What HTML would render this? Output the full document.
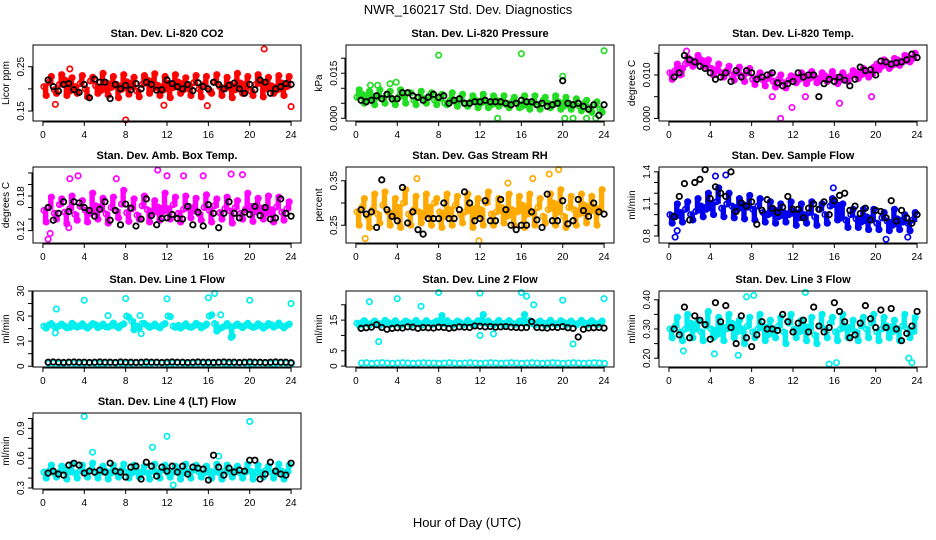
<!DOCTYPE html>
<html><head><meta charset="utf-8"><style>
body{margin:0;background:#fff;width:936px;height:540px;overflow:hidden}
svg{display:block;font-family:"Liberation Sans",sans-serif}
</style></head><body>
<svg id="chart" width="936" height="540" viewBox="0 0 936 540" xmlns="http://www.w3.org/2000/svg">
<rect width="936" height="540" fill="#fff"/>
<text x="468" y="14" text-anchor="middle" font-size="13">NWR_160217  Std. Dev. Diagnostics</text>
<text x="467" y="527" text-anchor="middle" font-size="13">Hour of Day (UTC)</text>
</svg>
<script>
const xTicks=[0,4,8,12,16,20,24];
// CO2
const co2A=[0.205,0.215,0.198,0.21,0.22,0.195,0.205,0.212,0.2,0.218,0.207,0.196,0.214,0.203,0.21,0.199,0.216,0.205,0.195,0.21,0.22,0.2,0.208,0.197,0.212,0.203,0.215,0.198,0.206,0.214,0.2,0.21,0.196,0.215,0.205,0.2,0.21,0.198,0.213,0.204,0.195,0.21,0.216,0.2,0.207,0.197,0.213,0.205];
const co2B=[0.185,0.228,0.19,0.232,0.185,0.225,0.19,0.23,0.182,0.226,0.19,0.235,0.186,0.228,0.18,0.232,0.188,0.226,0.182,0.23,0.19,0.234,0.185,0.228,0.18,0.232,0.19,0.225,0.185,0.23,0.182,0.228,0.19,0.232,0.185,0.226,0.18,0.235,0.19,0.228,0.185,0.232,0.182,0.226,0.19,0.23,0.185,0.228];
const co2K=[0.22,0.205,0.195,0.21,0.212,0.198,0.192,0.21,0.18,0.222,0.215,0.215,0.178,0.21,0.2,0.208,0.198,0.212,0.2,0.215,0.21,0.197,0.198,0.22,0.212,0.205,0.2,0.21,0.196,0.214,0.205,0.2,0.215,0.21,0.2,0.208,0.213,0.2,0.19,0.21,0.198,0.22,0.215,0.19,0.2,0.205,0.212,0.21];
const co2OutX=[21.4,8,24,1.2,15.9,11.7,2.6];
const co2OutY=[0.29,0.13,0.16,0.165,0.162,0.163,0.245];
// Pressure
const prA=[.007,.008,.006,.0075,.007,.0065,.008,.006,.007,.0075,.0085,.006,.007,.0065,.0075,.006,.0065,.005,.006,.0055,.006,.005,.0055,.006,.005,.0055,.0045,.006,.005,.0045,.0055,.005,.004,.0055,.005,.0045,.006,.005,.0045,.0055,.004,.005,.0045,.004,.005,.0035,.0045,.003];
const prB=[.0095,.005,.009,.0045,.0095,.005,.009,.0045,.0095,.005,.0085,.0045,.009,.005,.0085,.0045,.008,.0045,.0085,.004,.008,.004,.0075,.0035,.008,.0035,.0075,.004,.0075,.0035,.007,.0035,.0075,.003,.0075,.003,.007,.0035,.0075,.003,.007,.003,.0065,.0025,.006,.002,.0055,.002];
const prK=[.006,.0055,.006,.0075,.0065,.008,.0065,.0065,.0085,.0085,.0075,.007,.006,.007,.008,.007,.0075,.005,.006,.0065,.005,.005,.0055,.0055,.006,.0055,.0055,.0055,.005,.0045,.005,.006,.0055,.0055,.0045,.005,.004,.0045,.005,.0125,.005,.0045,.005,.004,.003,.0045,.001,.0045];
const prOutX=[8,16,24,20,3.3,3.9,13.7,20.2,21,22.3,23.2,1.4,2.1];
const prOutY=[.021,.0215,.0225,.014,.0115,.012,0,0,0,0,0,.011,.011];
// Li-820 Temp
const tmA=[.0105,.011,.010,.0125,.0135,.013,.0135,.012,.0115,.011,.0105,.011,.010,.0105,.0098,.0105,.009,.0095,.0088,.0092,.0085,.009,.0082,.0088,.0095,.009,.0098,.0092,.0095,.009,.0098,.0092,.0095,.0088,.0095,.0098,.0105,.0100,.0108,.0102,.0125,.0120,.0128,.0122,.0135,.013,.0142,.0138];
const tmB=[.009,.0125,.0115,.0140,.012,.0145,.0120,.0135,.010,.0125,.0095,.012,.0088,.0118,.0085,.0115,.0078,.0105,.0075,.0102,.0072,.0100,.0070,.0098,.0082,.0105,.0080,.0108,.0082,.0105,.0085,.0108,.0080,.0105,.0085,.0110,.0092,.0115,.0095,.0118,.0112,.0135,.0115,.0138,.0122,.0145,.0130,.0150];
const tmK=[.0095,.0105,.0145,.0135,.013,.012,.0115,.0105,.009,.0095,.0105,.0085,.011,.0095,.011,.0105,.009,.0095,.010,.0105,.0082,.0075,.008,.0085,.0105,.0095,.0100,.0100,.005,.008,.009,.0085,.0095,.0088,.0075,.0090,.0118,.0110,.0112,.0100,.0132,.0130,.0125,.0128,.0130,.0135,.0148,.0140];
const tmOutX=[10.8,11.9,16.5,19.6,1.7,10.0,13.2];
const tmOutY=[0,.0025,.0035,.005,.0155,.005,.005];
// Amb box temp
const abA=[.155,.16,.15,.165,.152,.158,.148,.162,.155,.15,.163,.157,.149,.16,.154,.166,.151,.158,.147,.163,.156,.15,.161,.153,.158,.165,.15,.157,.162,.154,.149,.16,.155,.163,.151,.158,.154,.16,.15,.157,.162,.153,.159,.15,.156,.161,.152,.158];
const abB=[.135,.178,.14,.175,.132,.18,.138,.172,.135,.185,.14,.176,.133,.178,.142,.19,.136,.175,.14,.18,.135,.172,.138,.185,.14,.178,.135,.18,.142,.176,.138,.182,.135,.175,.14,.178,.133,.172,.14,.185,.136,.176,.14,.18,.135,.178,.138,.17];
const abK=[.16,.138,.15,.17,.153,.17,.168,.16,.155,.145,.157,.17,.138,.155,.13,.166,.159,.128,.14,.175,.146,.13,.141,.142,.148,.141,.14,.162,.13,.152,.128,.165,.15,.125,.15,.17,.15,.142,.152,.148,.162,.146,.16,.14,.142,.175,.15,.145];
const abOutX=[0.5,0.7,2.6,3.4,7.1,11.1,12.0,13.6,15.5,18.2,19.3,2.5];
const abOutY=[.105,.115,.21,.215,.21,.225,.215,.215,.215,.218,.217,.125];
// Gas RH
const rhA=[.28,.29,.27,.285,.275,.295,.28,.27,.29,.3,.275,.285,.28,.27,.29,.3,.28,.27,.285,.295,.275,.28,.29,.27,.285,.3,.275,.28,.29,.27,.285,.28,.295,.275,.28,.29,.27,.285,.3,.28,.27,.29,.285,.275,.295,.28,.29,.285];
const rhB=[.25,.31,.245,.32,.255,.325,.25,.31,.245,.33,.25,.315,.255,.32,.25,.31,.245,.32,.25,.315,.255,.32,.245,.31,.25,.325,.25,.31,.255,.32,.25,.315,.245,.32,.25,.31,.255,.32,.25,.33,.245,.315,.25,.32,.255,.315,.25,.33];
const rhK=[.285,.275,.28,.245,.352,.285,.27,.26,.335,.255,.28,.24,.23,.265,.265,.265,.3,.265,.265,.285,.325,.3,.26,.265,.305,.26,.26,.308,.285,.25,.24,.25,.25,.28,.262,.245,.32,.26,.26,.305,.253,.26,.308,.283,.27,.3,.28,.275];
const rhOutX=[11.9,19.6,18.7,5.9,17.1,0.9,14.7];
const rhOutY=[.215,.375,.365,.355,.355,.22,.345];
// Sample flow
const sfA=[1.0,.98,1.02,1.05,1.0,1.03,1.08,1.05,1.1,1.12,1.06,1.1,1.08,1.05,1.1,1.07,1.05,1.08,1.02,1.0,1.05,.98,1.02,1.0,1.03,.97,1.0,1.02,.98,1.05,1.0,1.08,1.1,.97,.95,1.0,.96,.93,.98,.95,.92,.97,.94,.9,.96,.93,.92,.95];
const sfB=[.92,1.1,.93,1.12,.95,1.15,.98,1.2,1.0,1.25,.98,1.2,.97,1.15,.96,1.18,.95,1.15,.93,1.12,.92,1.1,.93,1.12,.9,1.1,.92,1.12,.9,1.1,.92,1.15,.95,1.1,.88,1.05,.88,1.05,.86,1.05,.86,1.02,.85,1.05,.86,1.0,.85,1.02];
const sfK=[.98,1.17,1.29,.95,1.3,1.33,1.42,1.15,1.26,1.2,1.17,1.4,1.03,1.11,1.08,1.12,.91,1.04,1.14,1.06,1.02,1.07,1.17,1.05,1.05,.97,1.06,1.1,1.05,1.12,1.0,1.13,1.18,1.2,1.04,1.08,1.01,1.06,.95,1.04,1.03,.97,1.13,.94,1.04,.97,.92,1.0];
const sfOutX=[0.6,0.8,4.5,5.5,15.9,21,23.1];
const sfOutY=[.79,.85,1.36,1.37,1.25,.77,.79];
// Line 1 flow
const l1A=[16,16.5,15.8,16.2,16,15.5,16.3,16,15.8,16.2,16.5,16,15.7,16.2,16,16.4,20,18,16,17,16.2,16,15.8,16.5,20,16,16.3,16,15.8,16.1,16.4,16,20,17,15,16,15.8,16.2,16,16.3,16,15.8,16.2,16,16.5,16.2,16,16.3];
const l1B=[15.2,17,15.5,16.8,15.3,17.1,15.6,16.9,15.2,17,15.4,16.8,15.6,17.2,15.3,16.9,19.5,14.5,15.2,17,15.5,16.8,15.3,17,19.8,15.5,15.2,16.9,15.5,17.1,15.3,16.8,20.5,14,15.5,17,12,16.8,15.4,17.1,15.5,16.9,15.2,17,15.6,17.2,15.3,16.8];
const l1C=[1.2,1.3,1.1,1.2,1.3,1.2,1.1,1.2,1.3,1.2,1.1,1.2,1.3,1.2,1.2,1.1,1.2,1.3,1.2,1.1,1.2,1.3,1.2,1.1,1.2,1.3,1.2,1.1,1.2,1.3,1.2,1.1,1.2,1.3,1.2,1.1,1.2,1.3,1.2,1.1,1.2,1.3,1.2,1.1,1.2,1.3,1.2,1.1];
const l1K=[1.6,1.7,1.6,1.5,1.6,1.7,1.6,1.6,1.5,1.6,1.7,1.6,1.6,1.5,1.7,1.6,1.6,1.5,1.6,1.7,1.6,1.6,1.5,1.6,1.7,1.6,1.6,1.5,1.6,1.7,1.6,1.6,1.5,1.6,1.7,1.6,1.6,1.5,1.6,1.7,1.6,1.6,1.5,1.6,1.7,1.6,1.6,1.4];
const l1OutX=[1.3,4,8,12,16,16.6,20,24,6.3,9.4,17.2,9.5,1.2,18.2];
const l1OutY=[22.8,26.3,27,26.9,27.3,29,26.3,25,20.2,20.2,20.5,13,13.3,11.5];
// Line 2 flow
const l2A=[14,14.2,13.8,14.1,14,13.9,14.2,14,13.8,14.1,14.2,14,13.9,14.1,14,14.2,14,13.8,14.1,14,14.2,13.9,14,14.1,14.2,14,13.8,14.1,14,14.2,14,13.9,14.1,14,13.8,14.2,14,14.1,13.9,14,14.2,14,13.8,14.1,14,14.2,13.9,14];
const l2B=[13.3,14.8,13.4,14.7,13.3,14.9,13.5,14.8,13.3,14.7,13.4,14.9,13.3,14.8,13.5,14.7,16.5,14.8,13.3,14.7,13.4,14.9,13.3,14.8,16.8,14.7,13.4,14.9,13.3,14.8,13.5,14.7,16.8,14.8,13.4,14.7,13.3,14.9,13.5,14.8,13.3,14.7,13.4,14.9,13.3,14.8,13.5,14.7];
const l2C=[1,1.1,0.9,1,1.1,1,0.9,1,1.1,1,0.9,1,1.1,1,1,0.9,1,1.1,1,0.9,1,1.1,1,0.9,1,1.1,1,0.9,1,1.1,1,0.9,1,1.1,1,0.9,1,1.1,1,0.9,1,1.1,1,0.9,1,1.1,1,0.9];
const l2K=[12.3,12.5,12.7,13.5,12.6,12,12.3,12.5,12.4,12.8,12.7,12.3,12.6,12.5,12.4,12.7,12.6,12.3,12.5,12.8,12.7,12.6,13.1,13,12.8,12.9,12.7,12.8,12.9,12.7,12.6,12.5,12.6,14.5,12.6,12.5,12.4,12.7,12.6,12.9,12.5,12.3,9.5,12,12.4,12.5,12.6,12.4];
const l2OutX=[1.3,4,6.3,8,12,16,16.5,17.2,20,24,2.2,21,12,13.3];
const l2OutY=[21,22,19.5,24,23.8,24,22.8,20,21.5,22,8,7.2,10,10.5];
// Line 3 flow
const l3A=[.30,.31,.29,.30,.32,.30,.29,.31,.30,.28,.31,.30,.32,.29,.30,.31,.29,.30,.31,.28,.30,.31,.29,.32,.30,.29,.31,.30,.28,.31,.30,.32,.29,.30,.31,.30,.29,.31,.30,.32,.29,.30,.31,.29,.30,.31,.30,.29];
const l3B=[.27,.34,.26,.35,.27,.33,.26,.36,.27,.34,.26,.35,.27,.33,.25,.34,.27,.35,.26,.33,.27,.34,.25,.35,.27,.33,.26,.34,.25,.35,.27,.34,.26,.35,.27,.33,.26,.34,.27,.35,.26,.34,.27,.33,.26,.35,.27,.34];
const l3K=[.30,.28,.375,.27,.345,.33,.315,.265,.39,.325,.38,.305,.25,.345,.27,.24,.28,.325,.30,.30,.295,.35,.325,.29,.32,.33,.29,.375,.31,.29,.305,.39,.36,.325,.27,.28,.32,.38,.335,.305,.365,.305,.37,.30,.26,.285,.31,.36];
const l3OutX=[13.2,15.5,16.2,23.5,23.2,7.5,8.2,1.4,4.4,6.7];
const l3OutY=[.425,.18,.185,.185,.2,.41,.415,.225,.215,.21];
// Line 4 flow
const l4A=[.46,.47,.45,.46,.48,.46,.45,.47,.46,.48,.45,.46,.47,.45,.46,.48,.46,.45,.47,.46,.45,.47,.46,.48,.45,.46,.47,.45,.46,.48,.46,.45,.47,.46,.45,.47,.46,.48,.45,.46,.47,.45,.46,.48,.46,.45,.47,.46];
const l4B=[.40,.53,.41,.52,.39,.54,.40,.53,.41,.55,.40,.52,.39,.53,.41,.54,.40,.53,.41,.52,.39,.54,.40,.53,.41,.52,.39,.54,.40,.53,.41,.52,.40,.54,.39,.53,.41,.52,.40,.54,.39,.53,.41,.52,.40,.54,.39,.53];
const l4K=[.45,.47,.44,.43,.53,.55,.53,.45,.47,.46,.48,.46,.55,.47,.46,.41,.51,.52,.39,.56,.52,.42,.51,.47,.52,.46,.52,.44,.51,.50,.49,.38,.63,.51,.43,.50,.46,.48,.47,.58,.58,.39,.44,.56,.47,.44,.43,.55];
const l4OutX=[4,20,12,10.6,4.8,17,12.6];
const l4OutY=[1.02,.97,.82,.71,.66,.62,.33];

const colL=[33,346,659], rowT=[45,167,291,413], W=268, H=76;
const panels=[
 {name:'co2',title:'Stan. Dev. Li-820 CO2',ylab:'Licor ppm',c:0,r:0,ymin:0.1275,ymax:0.299,ticks:[0.15,0.2,0.25],labs:['0.15','','0.25'],col:'#ff0000',series:[co2A,co2B],k:co2K,ox:co2OutX,oy:co2OutY},
 {name:'pressure',title:'Stan. Dev. Li-820 Pressure',ylab:'kPa',c:1,r:0,ymin:-0.0009,ymax:0.0244,ticks:[0,0.005,0.01,0.015,0.02],labs:['0.000','','','0.015',''],col:'#22dd22',series:[prA,prB],k:prK,ox:prOutX,oy:prOutY},
 {name:'li820-temp',title:'Stan. Dev. Li-820 Temp.',ylab:'degrees C',c:2,r:0,ymin:-0.0006,ymax:0.0169,ticks:[0,0.005,0.01,0.015],labs:['0.000','','0.010',''],col:'#ff00ff',series:[tmA,tmB],k:tmK,ox:tmOutX,oy:tmOutY},
 {name:'amb-box-temp',title:'Stan. Dev. Amb. Box Temp.',ylab:'degrees C',c:0,r:1,ymin:0.0985,ymax:0.2303,ticks:[0.12,0.14,0.16,0.18,0.2,0.22],labs:['0.12','','','0.18','',''],col:'#ff00ff',series:[abA,abB],k:abK,ox:abOutX,oy:abOutY},
 {name:'gas-rh',title:'Stan. Dev. Gas Stream RH',ylab:'percent',c:1,r:1,ymin:0.21,ymax:0.381,ticks:[0.25,0.3,0.35],labs:['0.25','','0.35'],col:'#ffaa00',series:[rhA,rhB],k:rhK,ox:rhOutX,oy:rhOutY},
 {name:'sample-flow',title:'Stan. Dev. Sample Flow',ylab:'ml/min',c:2,r:1,ymin:0.735,ymax:1.445,ticks:[0.8,0.9,1.0,1.1,1.2,1.3,1.4],labs:['0.8','','','1.1','','','1.4'],col:'#0000ee',series:[sfA,sfB],k:sfK,ox:sfOutX,oy:sfOutY},
 {name:'line1-flow',title:'Stan. Dev. Line 1 Flow',ylab:'ml/min',c:0,r:2,ymin:-0.3,ymax:30,ticks:[0,5,10,15,20,25,30],labs:['0','','10','','20','','30'],col:'#00eeee',series:[l1A,l1B,l1C],k:l1K,ox:l1OutX,oy:l1OutY},
 {name:'line2-flow',title:'Stan. Dev. Line 2 Flow',ylab:'ml/min',c:1,r:2,ymin:-0.3,ymax:24.5,ticks:[0,5,10,15,20],labs:['0','5','','15',''],col:'#00eeee',series:[l2A,l2B,l2C],k:l2K,ox:l2OutX,oy:l2OutY},
 {name:'line3-flow',title:'Stan. Dev. Line 3 Flow',ylab:'ml/min',c:2,r:2,ymin:0.17,ymax:0.43,ticks:[0.2,0.25,0.3,0.35,0.4],labs:['0.20','','0.30','','0.40'],col:'#00eeee',series:[l3A,l3B],k:l3K,ox:l3OutX,oy:l3OutY},
 {name:'line4-flow',title:'Stan. Dev. Line 4 (LT) Flow',ylab:'ml/min',c:0,r:3,ymin:0.29,ymax:1.055,ticks:[0.3,0.4,0.5,0.6,0.7,0.8,0.9,1.0],labs:['0.3','','','0.6','','','0.9',''],col:'#00eeee',series:[l4A,l4B],k:l4K,ox:l4OutX,oy:l4OutY}
];
const NS='http://www.w3.org/2000/svg', svg=document.getElementById('chart');
function mk(tag,attrs,parent){const e=document.createElementNS(NS,tag);for(const k in attrs)e.setAttribute(k,attrs[k]);parent.appendChild(e);return e;}
panels.forEach(p=>{
 const L=colL[p.c],T=rowT[p.r];
 const xs=v=>L+(v+0.96)/25.92*W;
 const ys=v=>T+H-(v-p.ymin)/(p.ymax-p.ymin)*H;
 const g=mk('g',{},svg);
 
 
 const t=mk('text',{x:L+W/2,y:T-8,'text-anchor':'middle','font-size':'11','font-weight':'bold'},g);
 
 
 t.textContent=p.title;
 const yl=mk('text',{x:0,y:0,transform:`translate(${L-24},${T+H/2}) rotate(-90)`,'text-anchor':'middle','font-size':'10'},g);
 
 
 yl.textContent=p.ylab;
 const pts=mk('g',{},g);
 
 
 const a=p.series[0], b=p.series[1];
 a.forEach((v,i)=>{
  const lo=Math.min(v,b[i]), hi=Math.max(v,b[i]);
  const band=mk('rect',{x:xs(i*0.5),y:ys(hi)-2,width:xs(0.52)-xs(0),height:ys(lo)-ys(hi)+4,fill:p.col},pts);
  
  
 });
 p.series.forEach((s,si)=>{
  s.forEach((v,i)=>{
   const c=mk('circle',{cx:xs(i*0.5+0.1+si*0.22),cy:ys(v),r:2.7,fill:'none',stroke:p.col,'stroke-width':1.7},pts);
   
   
  });
 });
 p.ox.forEach((x,i)=>{
  const c=mk('circle',{cx:xs(x),cy:ys(p.oy[i]),r:2.7,fill:'none',stroke:p.col,'stroke-width':1.7},pts);
  
  
 });
 p.k.forEach((v,i)=>{
  const c=mk('circle',{cx:xs(i*0.5+0.5),cy:ys(v),r:2.7,fill:'none',stroke:'#000','stroke-width':1.8},pts);
  
  
 });
 const box=mk('rect',{x:L,y:T,width:W,height:H,fill:'none',stroke:'#000','stroke-width':1},g);
 
 
 mk('line',{x1:xs(0),x2:xs(24),y1:T+H+1,y2:T+H+1,stroke:'#000'},g);
 xTicks.forEach(v=>{
  mk('line',{x1:xs(v),x2:xs(v),y1:T+H,y2:T+H+5,stroke:'#000'},g);
  const tl=mk('text',{x:xs(v),y:T+H+17,'text-anchor':'middle','font-size':'10'},g);
  
  
  tl.textContent=v;
 });
 mk('line',{x1:L-1,x2:L-1,y1:ys(p.ticks[0]),y2:ys(p.ticks[p.ticks.length-1]),stroke:'#000'},g);
 p.ticks.forEach((v,i)=>{
  mk('line',{x1:L-5,x2:L,y1:ys(v),y2:ys(v),stroke:'#000'},g);
  if(p.labs[i]){
   const tl=mk('text',{x:0,y:0,transform:`translate(${L-9},${ys(v)}) rotate(-90)`,'text-anchor':'middle','font-size':'10'},g);
   
   
   tl.textContent=p.labs[i];
  }
 });
});
</script>
</body></html>
